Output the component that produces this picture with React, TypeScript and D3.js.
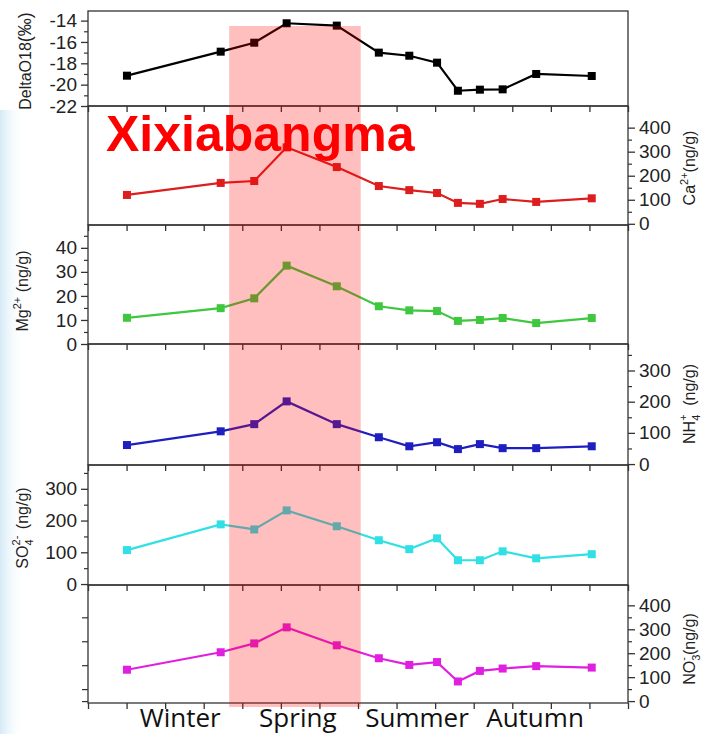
import { useRef, useEffect } from 'react';
import * as d3 from 'd3';

const W = 704;
const H = 734;

// sample positions along the season axis (0..14)
const xPos = [1.01, 3.44, 4.31, 5.15, 6.45, 7.54, 8.33, 9.05, 9.59, 10.16, 10.75, 11.62, 13.06];
const deltaO18 = [-19.16, -16.91, -16.07, -14.25, -14.47, -17.0, -17.29, -17.94, -20.57, -20.47, -20.44, -19.0, -19.19];
const ca = [120, 170, 178, 318, 236, 157, 140, 128, 87, 83, 103, 91, 106];
const mg = [10.9, 14.9, 19.0, 32.6, 24.0, 15.7, 14.0, 13.7, 9.6, 10.0, 10.8, 8.7, 10.8];
const nh4 = [61, 105, 128, 201, 128, 86, 57, 70, 48, 64, 51, 51, 57];
const so4 = [107, 188, 172, 232, 182, 138, 110, 144, 75, 75, 103, 81, 94];
const no3 = [131, 204, 241, 308, 233, 179, 151, 163, 82, 126, 136, 146, 140];

const seasons = ['Winter', 'Spring', 'Summer', 'Autumn'];
const seasonPos = [2.39, 5.44, 8.53, 11.59];
const springBand = [3.66, 7.07];

type Panel = {
  values: number[];
  color: string;
  top: number;
  bottom: number;
  domain: [number, number];
  major: number[];
  minor: number[];
  side: 'left' | 'right';
};

const FONT = "'Liberation Sans', Arial, sans-serif";

export default function App() {
  const ref = useRef<SVGSVGElement>(null);
  const left = 88;
  const right = 628;

  useEffect(() => {
    const svg = d3.select(ref.current);
    svg.selectAll('*').remove();

    const x = d3.scaleLinear().domain([0, 14]).range([left, right]);

    const panels: Panel[] = [
      { values: deltaO18, color: '#000000', top: 11, bottom: 106, domain: [-22, -13.1], major: [-22, -20, -18, -16, -14], minor: [-21, -19, -17, -15], side: 'left' },
      { values: ca, color: '#dc1e1e', top: 106, bottom: 225, domain: [-5, 490], major: [0, 100, 200, 300, 400], minor: [50, 150, 250, 350], side: 'right' },
      { values: mg, color: '#3fc83f', top: 225, bottom: 344, domain: [0, 49.5], major: [0, 10, 20, 30, 40], minor: [5, 15, 25, 35, 45], side: 'left' },
      { values: nh4, color: '#1f1fc0', top: 344, bottom: 465, domain: [-3, 385], major: [0, 100, 200, 300], minor: [50, 150, 250, 350], side: 'right' },
      { values: so4, color: '#30e0e4', top: 465, bottom: 585, domain: [-3, 375], major: [0, 100, 200, 300], minor: [50, 150, 250, 350], side: 'left' },
      { values: no3, color: '#e020e0', top: 585, bottom: 703, domain: [-8, 485], major: [0, 100, 200, 300, 400], minor: [50, 150, 250, 350], side: 'right' },
    ];

    // faint blue smear on the left edge
    const defs = svg.append('defs');
    const grad = defs.append('linearGradient').attr('id', 'edge').attr('x1', 0).attr('x2', 1);
    grad.append('stop').attr('offset', 0).attr('stop-color', '#cfe8f5').attr('stop-opacity', 0.9);
    grad.append('stop').attr('offset', 1).attr('stop-color', '#ffffff').attr('stop-opacity', 0);
    svg.append('rect').attr('x', 0).attr('y', 110).attr('width', 24).attr('height', H - 110).attr('fill', 'url(#edge)');

    const ys: d3.ScaleLinear<number, number>[] = [];

    panels.forEach((p) => {
      const y = d3.scaleLinear().domain(p.domain).range([p.bottom, p.top]);
      ys.push(y);
      const g = svg.append('g');

      g.append('rect')
        .attr('x', left).attr('y', p.top)
        .attr('width', right - left).attr('height', p.bottom - p.top)
        .attr('fill', 'none').attr('stroke', '#333').attr('stroke-width', 1.3);

      // x ticks below each panel
      const xa = g.append('g').attr('transform', `translate(0,${p.bottom})`)
        .call(d3.axisBottom(x).tickValues(d3.range(0, 15)).tickSize(6).tickFormat(() => ''));
      xa.select('.domain').remove();
      xa.selectAll('line').attr('stroke', '#333').attr('stroke-width', 1.3);

      const ax = p.side === 'left' ? left : right;
      const axisFn = p.side === 'left' ? d3.axisLeft : d3.axisRight;
      const ya = g.append('g').attr('transform', `translate(${ax},0)`)
        .call(axisFn(y).tickValues(p.major).tickSize(7).tickPadding(4).tickFormat((d) => String(d)));
      ya.select('.domain').remove();
      ya.selectAll('line').attr('stroke', '#333').attr('stroke-width', 1.3);
      ya.selectAll('text').attr('font-family', FONT).attr('font-size', 19).attr('fill', '#222');
      const ym = g.append('g').attr('transform', `translate(${ax},0)`)
        .call(axisFn(y).tickValues(p.minor.filter((v) => v <= p.domain[1])).tickSize(4).tickFormat(() => ''));
      ym.select('.domain').remove();
      ym.selectAll('line').attr('stroke', '#333').attr('stroke-width', 1.2);

      const line = d3.line<number>().x((_, i) => x(xPos[i])).y((d) => y(d));
      g.append('path').attr('d', line(p.values)).attr('fill', 'none')
        .attr('stroke', p.color).attr('stroke-width', 2.2);
      g.selectAll('rect.m').data(p.values).join('rect').attr('class', 'm')
        .attr('x', (_, i) => x(xPos[i]) - 4).attr('y', (d) => y(d) - 4)
        .attr('width', 8).attr('height', 8).attr('fill', p.color);
    });

    // mirrored left ticks on the NO3 panel
    const yNo3 = ys[5];
    const lm = svg.append('g').attr('transform', `translate(${left},0)`)
      .call(d3.axisLeft(yNo3).tickValues([0, 50, 150, 250, 350]).tickSize(6).tickFormat(() => ''));
    lm.select('.domain').remove();
    lm.selectAll('line').attr('stroke', '#333').attr('stroke-width', 1.2);

    // axis titles
    const title = (cx: number, cy: number, build: (t: any) => void) => {
      const t = svg.append('text')
        .attr('transform', `translate(${cx},${cy}) rotate(-90)`)
        .attr('text-anchor', 'middle').attr('font-family', FONT).attr('font-size', 16).attr('fill', '#222');
      build(t);
    };
    title(31, 61, (t) => {
      t.append('tspan').text('DeltaO18');
      t.append('tspan').attr('font-size', 18).text('(‰)');
    });
    title(695, 168, (t) => {
      t.append('tspan').text('Ca');
      t.append('tspan').attr('font-size', 11).attr('dy', -7).text('2+');
      t.append('tspan').attr('dy', 7).text('(ng/g)');
    });
    title(28, 291, (t) => {
      t.append('tspan').text('Mg');
      t.append('tspan').attr('font-size', 11).attr('dy', -7).text('2+');
      t.append('tspan').attr('dy', 7).text(' (ng/g)');
    });
    title(695, 404, (t) => {
      t.append('tspan').text('NH');
      t.append('tspan').attr('font-size', 11).attr('dy', 5).text('4');
      t.append('tspan').attr('font-size', 11).attr('dy', -13).attr('dx', -6).text('+');
      t.append('tspan').attr('dy', 8).attr('dx', 4).text(' (ng/g)');
    });
    title(28, 528, (t) => {
      t.append('tspan').text('SO');
      t.append('tspan').attr('font-size', 11).attr('dy', 5).text('4');
      t.append('tspan').attr('font-size', 11).attr('dy', -13).attr('dx', -6).text('2-');
      t.append('tspan').attr('dy', 8).attr('dx', 2).text(' (ng/g)');
    });
    title(695, 649, (t) => {
      t.append('tspan').text('NO');
      t.append('tspan').attr('font-size', 11).attr('dy', 5).text('3');
      t.append('tspan').attr('font-size', 11).attr('dy', -13).attr('dx', -6).text('-');
      t.append('tspan').attr('dy', 8).attr('dx', 2).text('(ng/g)');
    });

    // season labels
    svg.append('g').selectAll('text').data(seasons).join('text')
      .attr('x', (_, i) => x(seasonPos[i])).attr('y', 727)
      .attr('text-anchor', 'middle').attr('font-family', "'Open Sans', sans-serif")
      .attr('font-size', 26).attr('fill', '#111').text((d) => d);

    // spring highlight
    svg.append('rect')
      .attr('x', x(springBand[0])).attr('y', 26)
      .attr('width', x(springBand[1]) - x(springBand[0])).attr('height', 707 - 26)
      .attr('fill', '#ff0000').attr('fill-opacity', 0.25);

    svg.append('text').attr('x', 106).attr('y', 151)
      .attr('font-family', FONT).attr('font-weight', 'bold').attr('font-size', 50)
      .attr('fill', '#ff0000').text('Xixiabangma');
  }, []);

  return (
    <div style={{ position: 'absolute', left: 0, top: 0 }}>
      <svg ref={ref} width={W} height={H} style={{ background: '#fff' }} />
    </div>
  );
}
